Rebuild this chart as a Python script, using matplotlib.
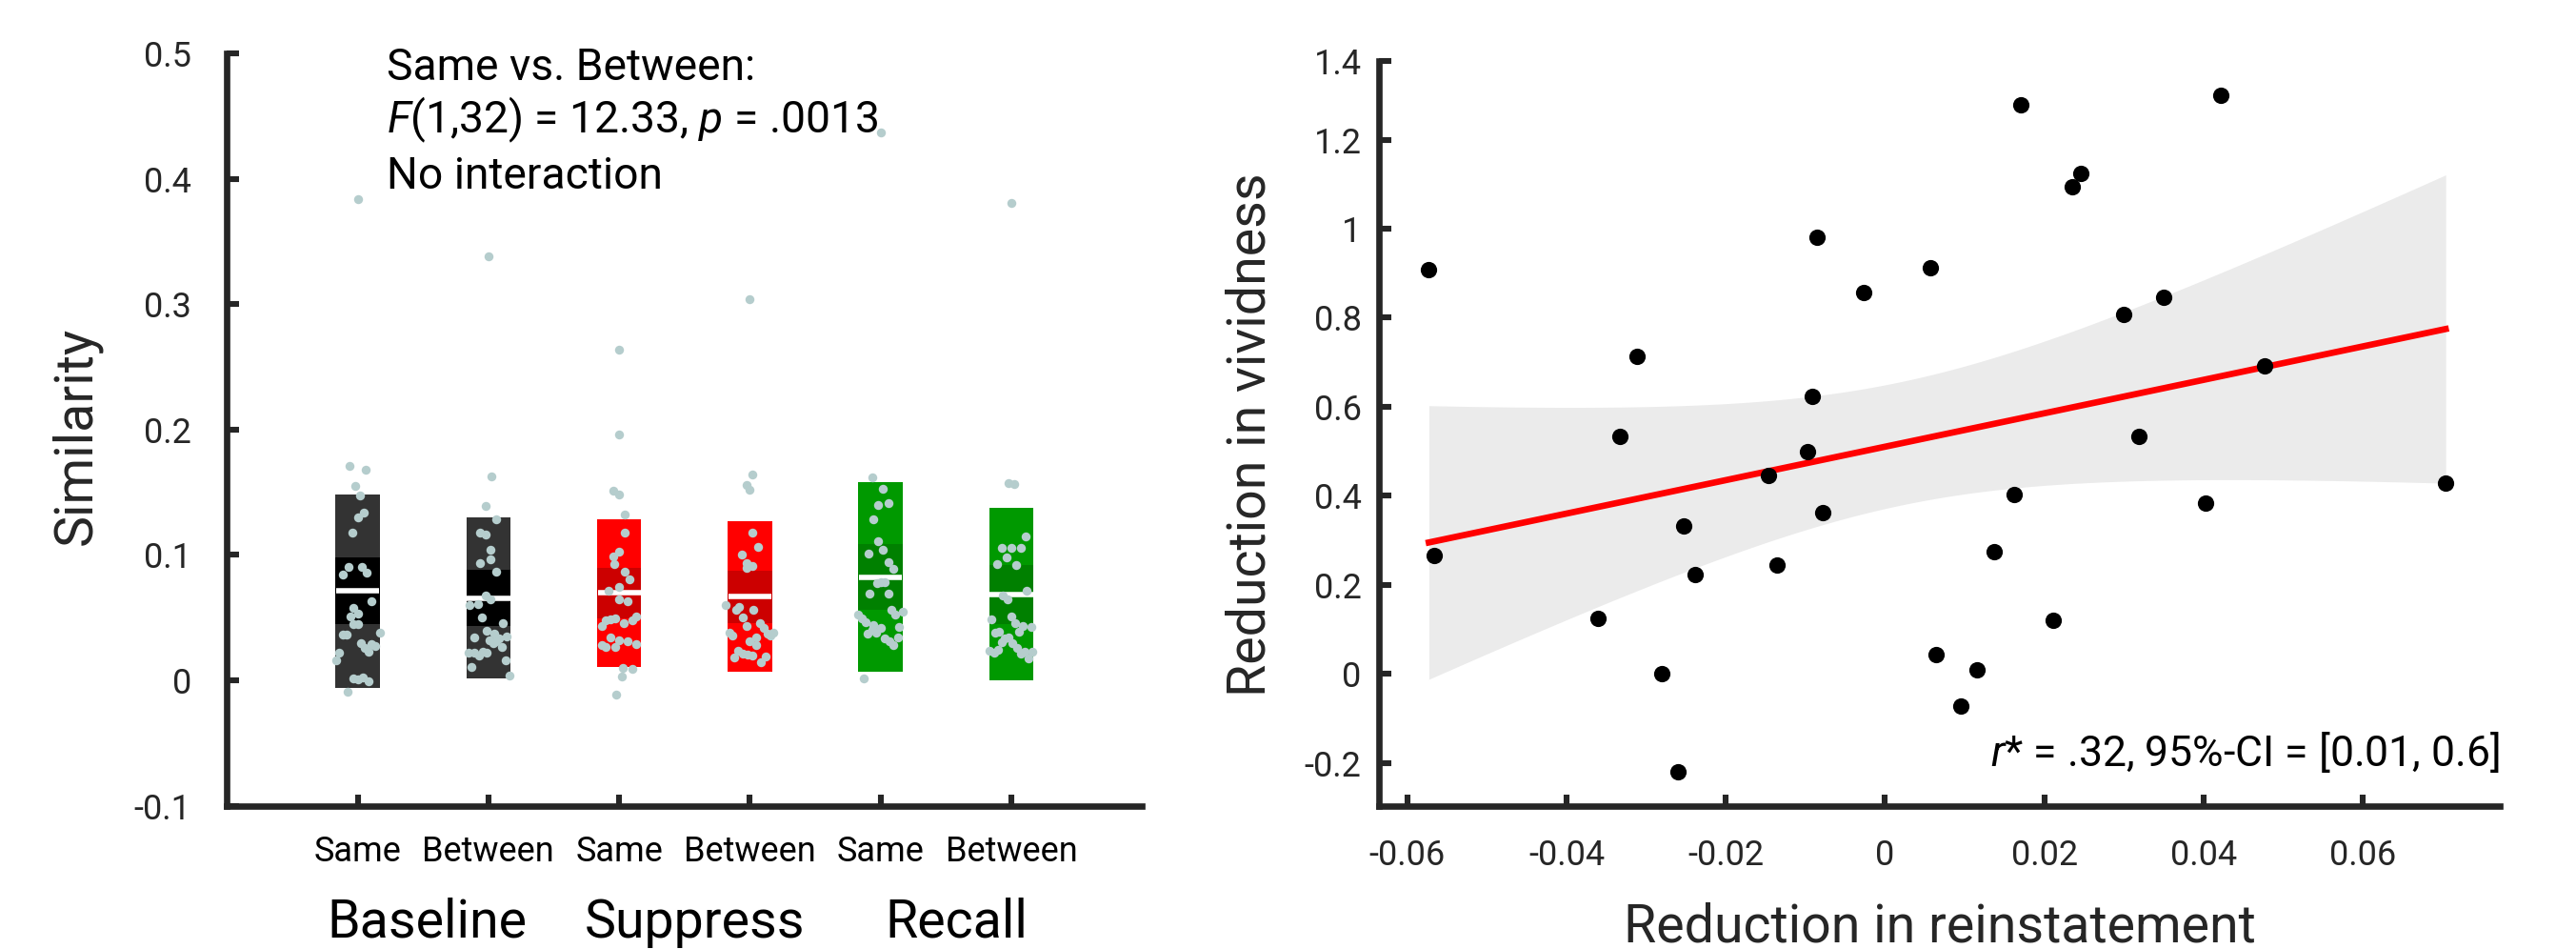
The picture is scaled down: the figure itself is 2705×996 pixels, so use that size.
import numpy as np
import matplotlib
matplotlib.use('Agg')
import matplotlib.pyplot as plt
from matplotlib.patches import Rectangle

plt.rcParams['font.family'] = ['Roboto', 'DejaVu Sans']
plt.rcParams['mathtext.fontset'] = 'custom'
plt.rcParams['mathtext.rm'] = 'Roboto'
plt.rcParams['mathtext.it'] = 'Roboto:italic'

# ---------------- Left panel data ----------------
conditions = ['Baseline', 'Suppress', 'Recall']
tick_labels = ['Same', 'Between', 'Same', 'Between', 'Same', 'Between']

baseline_same = [0.384, 0.171, 0.168, 0.155, 0.147, 0.134, 0.130, 0.118, 0.0905, 0.090,
                 0.084, 0.0856, 0.063, 0.0577, 0.0531, 0.0506, 0.045, 0.045, 0.0366,
                 0.0366, 0.038, 0.0295, 0.029, 0.026, 0.0272, 0.0229, 0.022, 0.0156,
                 0.0014, 0.0008, 0.0019, -0.0012, -0.009]
baseline_same_jit = [0.0, -0.064, 0.064, -0.022, 0.02, 0.044, 0.0, -0.044, -0.072, 0.033,
                     -0.11, 0.072, 0.105, -0.036, 0.0, -0.056, -0.03, 0.0, -0.114,
                     -0.086, 0.167, 0.028, 0.108, 0.056, 0.136, 0.086, -0.14, -0.167,
                     -0.036, 0.0, 0.036, 0.08, -0.08]

baseline_between = [0.338, 0.1626, 0.1387, 0.1283, 0.1181, 0.1161, 0.1037, 0.0966, 0.0935,
                    0.0866, 0.0674, 0.0648, 0.0597, 0.0608, 0.0503, 0.0458, 0.0392, 0.0374,
                    0.0336, 0.0346, 0.0341, 0.0318, 0.0298, 0.0265, 0.0217, 0.0222, 0.0194,
                    0.0227, 0.0222, 0.0161, 0.0102, 0.0034, 0.031]
baseline_between_jit = [0.0, 0.022, -0.022, 0.061, -0.064, -0.022, 0.019, 0.019, -0.064,
                        0.061, -0.022, 0.017, -0.142, -0.078, -0.05, 0.108, -0.017, 0.044,
                        0.08, 0.142, -0.111, 0.011, 0.036, 0.1, -0.15, -0.106, -0.072,
                        -0.044, -0.017, 0.131, -0.131, 0.161, 0.058]

suppress_same = [0.2636, 0.1963, 0.1509, 0.1478, 0.1318, 0.1181, 0.1024, 0.0986, 0.093,
                 0.0869, 0.0808, 0.0747, 0.0712, 0.0646, 0.0628, 0.048, 0.0486, 0.0496,
                 0.0458, 0.048, 0.0506, 0.043, 0.0341, 0.0318, 0.031, 0.029, 0.028,
                 0.0267, 0.0267, 0.0100, 0.0090, 0.0026, -0.0111]
suppress_same_jit = [0.0, 0.0, -0.044, 0.0, 0.042, 0.042, 0.0, -0.044, -0.039, 0.039,
                     0.078, 0.0, -0.081, 0.0, 0.064, -0.1, -0.067, -0.033, 0.033, 0.1,
                     0.13, -0.133, -0.067, 0.0, 0.064, 0.13, -0.133, -0.1, -0.033, 0.03,
                     0.1, 0.02, -0.025]

suppress_between = [0.304, 0.164, 0.156, 0.152, 0.118, 0.106, 0.100, 0.0933, 0.0912,
                    0.0894, 0.0597, 0.0587, 0.0559, 0.0559, 0.0503, 0.0455, 0.043, 0.042,
                    0.0379, 0.0359, 0.0372, 0.0379, 0.0356, 0.0339, 0.0313, 0.0278,
                    0.0234, 0.0209, 0.0201, 0.0196, 0.0181, 0.0191, 0.0145]
suppress_between_jit = [0.0, 0.022, -0.025, 0.0, 0.019, 0.061, -0.064, -0.025, 0.019,
                        -0.025, -0.183, -0.083, -0.108, 0.025, -0.053, 0.075, -0.028,
                        0.103, -0.158, -0.131, 0.133, 0.178, 0.156, 0.05, 0.0, 0.05,
                        -0.089, -0.053, -0.019, 0.019, -0.119, 0.117, 0.081]

recall_same = [0.437, 0.162, 0.1524, 0.1395, 0.1415, 0.1285, 0.1108, 0.1009, 0.1042,
               0.0945, 0.0892, 0.0775, 0.0783, 0.0785, 0.0689, 0.0689, 0.0562, 0.0524,
               0.0547, 0.0521, 0.0493, 0.0463, 0.0437, 0.0417, 0.0427, 0.0371, 0.0379,
               0.0404, 0.0331, 0.0311, 0.0344, 0.0278, 0.0011]
recall_same_jit = [0.0, -0.061, 0.019, -0.019, 0.063, -0.056, -0.017, -0.095, 0.019,
                   0.058, 0.095, -0.029, 0.0, 0.029, -0.083, 0.058, 0.083, 0.114, 0.167,
                   -0.17, -0.141, -0.112, -0.056, 0.0, 0.141, -0.097, -0.034, -0.061,
                   0.032, 0.068, 0.133, 0.1, -0.131]

recall_between = [0.381, 0.1575, 0.1562, 0.1148, 0.1052, 0.1054, 0.1052, 0.0978, 0.0925,
                  0.0922, 0.0717, 0.0679, 0.0648, 0.0509, 0.0483, 0.0453, 0.0432, 0.0427,
                  0.0389, 0.0379, 0.0389, 0.0331, 0.0341, 0.0303, 0.0295, 0.0260, 0.0237,
                  0.0219, 0.024, 0.0209, 0.0224, 0.0227, 0.0171]
recall_between_jit = [0.0, -0.024, 0.022, 0.109, -0.073, 0.0, 0.07, -0.036, -0.109, 0.034,
                      0.119, -0.066, -0.032, 0.0, -0.153, 0.029, 0.09, 0.15, 0.058,
                      -0.126, -0.092, -0.053, -0.019, -0.075, 0.01, 0.044, -0.165, -0.131,
                      -0.102, 0.073, 0.102, 0.158, 0.129]

# summary statistics (mean, SD, 95% CI half-width)
means = [0.0712, 0.0656, 0.0696, 0.0666, 0.0823, 0.0686]
sds = [0.0771, 0.0645, 0.0587, 0.0602, 0.0758, 0.0686]
cis = [0.0268, 0.0225, 0.0202, 0.0210, 0.0263, 0.0235]

groups = [baseline_same, baseline_between, suppress_same, suppress_between,
          recall_same, recall_between]
jitters = [baseline_same_jit, baseline_between_jit, suppress_same_jit,
           suppress_between_jit, recall_same_jit, recall_between_jit]

outer_colors = ['#333333', '#333333', '#ff0000', '#ff0000', '#009900', '#009900']
inner_colors = ['#000000', '#000000', '#cc0000', '#cc0000', '#008000', '#008000']
point_color = '#b5cdcd'

# ---------------- Right panel data ----------------
reinstatement = [-0.0573, -0.0566, -0.0361, -0.0333, -0.0312, -0.0280, -0.0260, -0.0253,
                 -0.0238, -0.0146, -0.0136, -0.0097, -0.0091, -0.0086, -0.0078, -0.0027,
                 0.0057, 0.0064, 0.0095, 0.0116, 0.0137, 0.0162, 0.0171, 0.0211, 0.0235,
                 0.0246, 0.0299, 0.0319, 0.0350, 0.0403, 0.0422, 0.0477, 0.0704]
vividness = [0.909, 0.267, 0.125, 0.533, 0.714, 0.000, -0.220, 0.332, 0.224, 0.445, 0.245,
             0.499, 0.624, 0.981, 0.363, 0.857, 0.913, 0.044, -0.072, 0.010, 0.275, 0.404,
             1.278, 0.121, 1.095, 1.125, 0.808, 0.533, 0.846, 0.384, 1.299, 0.691, 0.429]

TXT = '#262626'
W, H, DPI = 2705, 996, 200
fig = plt.figure(figsize=(W / DPI, H / DPI), dpi=DPI)

# ================= Left panel =================
ax1 = fig.add_axes([238.3 / W, 1 - 845.5 / H, 961 / W, 789.5 / H])
bw = 0.34
for i in range(6):
    pos = i + 1
    m, sd, ci = means[i], sds[i], cis[i]
    ax1.add_patch(Rectangle((pos - bw / 2, m - sd), bw, 2 * sd, facecolor=outer_colors[i],
                            edgecolor='none', zorder=2))
    ax1.add_patch(Rectangle((pos - bw / 2, m - ci), bw, 2 * ci, facecolor=inner_colors[i],
                            edgecolor='none', zorder=3))
    ax1.plot([pos - bw / 2 + 0.005, pos + bw / 2 - 0.005], [m, m], color='white', lw=2.0,
             solid_capstyle='butt', zorder=4)
    ax1.plot(pos + np.array(jitters[i]), groups[i], 'o', ms=3.4, mfc=point_color,
             mec='none', zorder=5, clip_on=False)

ax1.set_xlim(0, 7)
ax1.set_ylim(-0.1, 0.5)
ax1.set_xticks(range(1, 7))
ax1.set_xticklabels(tick_labels)
ax1.set_yticks([-0.1, 0, 0.1, 0.2, 0.3, 0.4, 0.5])
ax1.set_yticklabels(['-0.1', '0', '0.1', '0.2', '0.3', '0.4', '0.5'])
for s in ['top', 'right']:
    ax1.spines[s].set_visible(False)
for s in ['left', 'bottom']:
    ax1.spines[s].set_linewidth(2.4)
    ax1.spines[s].set_color(TXT)
    ax1.spines[s].set_capstyle('projecting')
ax1.tick_params(direction='in', length=4.5, width=2.2, color=TXT, labelsize=13,
                labelcolor=TXT)
ax1.tick_params(axis='x', pad=11, labelcolor='black')
ax1.tick_params(axis='y', pad=13.5)

group_x = [1.53, 3.58, 5.58]
for gx, name in zip(group_x, conditions):
    ax1.text(gx, -0.205, name, ha='center', va='baseline', fontsize=20, color='black',
             clip_on=False)

ax1.text(1.225, 0.479, 'Same vs. Between:', fontsize=16.6, va='baseline', ha='left')
ax1.text(1.225, 0.4366, r'$F$(1,32) = 12.33, $p$ = .0013', fontsize=16.6, va='baseline',
         ha='left')
ax1.text(1.225, 0.392, 'No interaction', fontsize=16.6, va='baseline', ha='left')

fig.text(80 / W, 1 - 457 / H, 'Similarity', rotation=90, ha='center', va='center',
         fontsize=20, color=TXT)

# ================= Right panel =================
ax2 = fig.add_axes([1447.7 / W, 1 - 845.7 / H, 1177.3 / W, 781.4 / H])
xr = np.array(reinstatement)
yr = np.array(vividness)
n = len(xr)
slope, intercept = np.polyfit(xr, yr, 1)
xg = np.linspace(xr.min(), xr.max(), 200)
yfit = intercept + slope * xg
resid = yr - (intercept + slope * xr)
s_err = np.sqrt(np.sum(resid ** 2) / (n - 2))
t_crit = 2.0395
sxx = np.sum((xr - xr.mean()) ** 2)
half = t_crit * s_err * np.sqrt(1 / n + (xg - xr.mean()) ** 2 / sxx)
ax2.fill_between(xg, yfit - half, yfit + half, color='#ebebeb', lw=0, zorder=1)
ax2.plot(xg, yfit, color='#ff0000', lw=2.4, zorder=2)
ax2.plot(xr, yr, 'o', ms=6.2, color='black', mec='none', zorder=3, clip_on=False)

ax2.set_xlim(-0.0636, 0.0772)
ax2.set_ylim(-0.296, 1.376)
ax2.set_xticks([-0.06, -0.04, -0.02, 0, 0.02, 0.04, 0.06])
ax2.set_xticklabels(['-0.06', '-0.04', '-0.02', '0', '0.02', '0.04', '0.06'])
ax2.set_yticks([-0.2, 0, 0.2, 0.4, 0.6, 0.8, 1.0, 1.2, 1.376])
ax2.set_yticklabels(['-0.2', '0', '0.2', '0.4', '0.6', '0.8', '1', '1.2', '1.4'])
for s in ['top', 'right']:
    ax2.spines[s].set_visible(False)
for s in ['left', 'bottom']:
    ax2.spines[s].set_linewidth(2.4)
    ax2.spines[s].set_color(TXT)
    ax2.spines[s].set_capstyle('projecting')
ax2.tick_params(direction='in', length=4.5, width=2.2, color=TXT, labelsize=13,
                labelcolor=TXT)
ax2.tick_params(axis='x', pad=12.5)
ax2.tick_params(axis='y', pad=6.5)

ax2.text(0.0772, -0.207, r'$r$* = .32, 95%-CI = [0.01, 0.6]', ha='right', va='baseline',
         fontsize=16, color='black')

fig.text(1313 / W, 1 - 456 / H, 'Reduction in vividness', rotation=90, ha='center',
         va='center', fontsize=20, color=TXT)
fig.text(2037 / W, 1 - 988 / H, 'Reduction in reinstatement', ha='center', va='baseline',
         fontsize=20, color=TXT)

fig.savefig('out.png', dpi=DPI, facecolor='white')
